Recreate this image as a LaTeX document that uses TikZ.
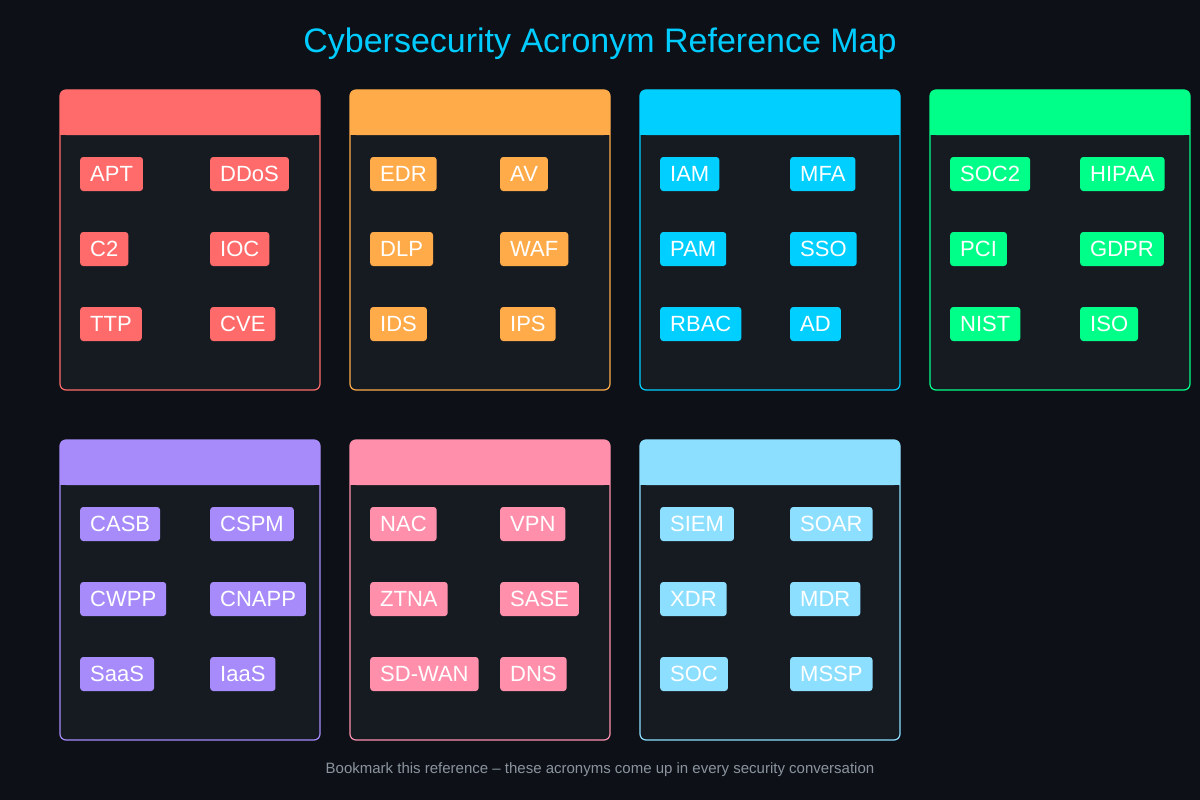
\documentclass[tikz,border=0pt]{standalone}
\usepackage{fontspec}
\setmainfont{Liberation Sans}
\usepackage{xcolor}
\definecolor{bgdark}{HTML}{0D1117}
\definecolor{panelbg}{HTML}{161B22}
\definecolor{titlecyan}{HTML}{00CCFF}
\definecolor{footgray}{HTML}{8B949E}
\definecolor{catthreat}{HTML}{FF6B6B}
\definecolor{catendpoint}{HTML}{FFAB4A}
\definecolor{catidentity}{HTML}{00CFFF}
\definecolor{catcomply}{HTML}{00FF88}
\definecolor{catcloud}{HTML}{A78BFA}
\definecolor{catnet}{HTML}{FF8FAB}
\definecolor{catsecops}{HTML}{8CDFFF}
\usepackage{tikz}
\usetikzlibrary{positioning}

\begin{document}
\begin{tikzpicture}[
    x=1pt, y=-1pt,
    panel/.style={draw=#1, fill=panelbg, rounded corners=6pt, line width=1.2pt},
    header/.style={fill=#1, rounded corners=6pt},
    badge/.style={fill=#1, text=white, rounded corners=3pt, anchor=west, minimum height=34pt, inner xsep=10pt, font=\fontsize{22}{24}\selectfont},
    title/.style={text=titlecyan, font=\fontsize{34}{38}\selectfont},
    footer/.style={text=footgray, font=\fontsize{15}{17}\selectfont}
]
\fill[bgdark] (0,0) rectangle (1200,800);
\useasboundingbox (0,0) rectangle (1200,800);

% Title
\node[title] (title) at (600,44) {Cybersecurity Acronym Reference Map};

% Panels: x, y, colour, six acronyms
\foreach \px/\py/\col/\ka/\kb/\kc/\kd/\ke/\kf [count=\i] in {
    60/90/catthreat/APT/DDoS/C2/IOC/TTP/CVE,
    350/90/catendpoint/EDR/AV/DLP/WAF/IDS/IPS,
    640/90/catidentity/IAM/MFA/PAM/SSO/RBAC/AD,
    930/90/catcomply/SOC2/HIPAA/PCI/GDPR/NIST/ISO,
    60/440/catcloud/CASB/CSPM/CWPP/CNAPP/SaaS/IaaS,
    350/440/catnet/NAC/VPN/ZTNA/SASE/SD-WAN/DNS,
    640/440/catsecops/SIEM/SOAR/XDR/MDR/SOC/MSSP} {
  \draw[panel=\col] (\px,\py) rectangle ++(260,300);
  \fill[header=\col] (\px,\py) rectangle ++(260,45);
  \fill[\col] (\px,\py+30) rectangle ++(260,15);
  \node[badge=\col] (p\i a) at (\px+20,\py+84) {\ka};
  \node[badge=\col] (p\i b) at (\px+150,\py+84) {\kb};
  \node[badge=\col] (p\i c) at (\px+20,\py+159) {\kc};
  \node[badge=\col] (p\i d) at (\px+150,\py+159) {\kd};
  \node[badge=\col] (p\i e) at (\px+20,\py+234) {\ke};
  \node[badge=\col] (p\i f) at (\px+150,\py+234) {\kf};
}

% Footer
\node[footer] (foot) at (600,770) {Bookmark this reference -- these acronyms come up in every security conversation};

\end{tikzpicture}
\end{document}
